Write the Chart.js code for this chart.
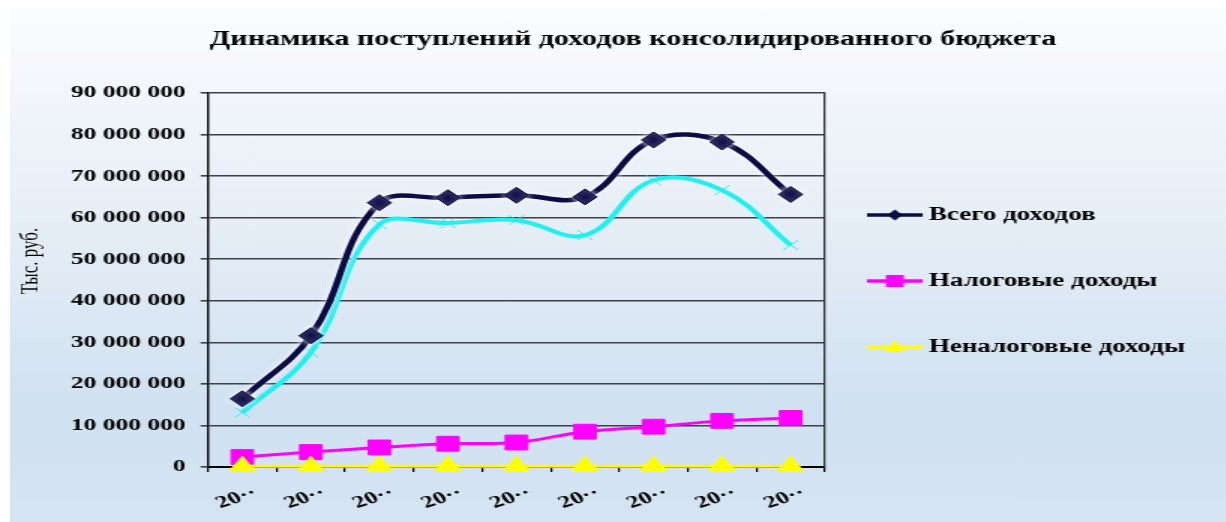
<!DOCTYPE html>
<html>
<head>
<meta charset="utf-8">
<script src="https://cdn.jsdelivr.net/npm/chart.js@4.4.1/dist/chart.umd.min.js"></script>
<style>
  html, body { margin: 0; padding: 0; width: 1226px; height: 522px; overflow: hidden; background: #ffffff; }
  #bg { position: absolute; left: 10px; top: 8px; right: 0; bottom: 0;
        background: linear-gradient(to bottom, #fbfcfe 0%, #eef3f9 25%, #e1ebf5 50%, #d0e1f1 78%, #d4e4f2 100%); }
  #wrap { position: absolute; left: 0; top: 0; width: 818px; height: 522px;
          transform: scaleX(1.5); transform-origin: 0 0; }
</style>
</head>
<body>
<div id="bg"></div>
<div id="wrap"><canvas id="c" width="818" height="522"></canvas></div>
<script>
// ---- data ----
const chartTitle = 'Динамика поступлений доходов консолидированного бюджета';
const yAxisTitle = 'Тыс. руб.';
const categories = ['20··', '20··', '20··', '20··', '20··', '20··', '20··', '20··', '20··'];
const seriesNames = ['Всего доходов', 'Налоговые доходы', 'Неналоговые доходы', ''];
const totalIncome  = [16400000, 31600000, 63600000, 64800000, 65400000, 65000000, 78700000, 78200000, 65600000];
const taxIncome    = [2400000, 3600000, 4700000, 5600000, 5900000, 8500000, 9700000, 11100000, 11800000];
const nonTaxIncome = [200000, 200000, 200000, 200000, 200000, 200000, 200000, 200000, 200000];
const otherIncome  = [13100000, 27600000, 58400000, 58700000, 59400000, 55800000, 69000000, 66600000, 53400000];
const yTicksMin = 0;
const yTicksMax = 90000000;
const yTicksStep = 10000000;

// ---- styles ----
const SERIF = "'Liberation Serif', 'Times New Roman', serif";
const NAVY = '#0b0b45';
const MAGENTA = '#ff00ff';
const YELLOW = '#ffff00';
const CYAN = '#22f0f0';

function fmt(v) { return String(v).replace(/\B(?=(\d{3})+(?!\d))/g, ' '); }

// legend symbols: line with marker in the middle (Excel style)
function legendSymbol(color, marker) {
  const cv = document.createElement('canvas');
  cv.width = 52; cv.height = 18;
  const g = cv.getContext('2d');
  g.strokeStyle = color; g.lineWidth = 3.5;
  g.beginPath(); g.moveTo(0, 9); g.lineTo(37, 9); g.stroke();
  g.fillStyle = color;
  const cx = 18.5, cy = 9;
  g.beginPath();
  if (marker === 'diamond') {
    g.moveTo(cx, cy - 5.5); g.lineTo(cx + 5, cy); g.lineTo(cx, cy + 5.5); g.lineTo(cx - 5, cy); g.closePath();
  } else if (marker === 'square') {
    g.rect(cx - 6, cy - 6, 12, 12);
  } else {
    g.moveTo(cx, cy - 7); g.lineTo(cx + 6.5, cy + 5); g.lineTo(cx - 6.5, cy + 5); g.closePath();
  }
  g.fill();
  return cv;
}
const legendSymbols = [legendSymbol(NAVY, 'diamond'), legendSymbol(MAGENTA, 'square'), legendSymbol(YELLOW, 'triangle')];

const glowPlugin = {
  id: 'glow',
  beforeDatasetDraw(chart, args) {
    if (args.index === 0) {
      const c = chart.ctx; c.save();
      c.shadowColor = 'rgba(255,255,255,0.95)'; c.shadowBlur = 5;
    }
  },
  afterDatasetDraw(chart, args) {
    if (args.index === 0) chart.ctx.restore();
  }
};

const plotLeft = 138.7;
const padLeft = 44;

new Chart(document.getElementById('c'), {
  type: 'line',
  data: {
    labels: categories,
    datasets: [
      { label: seriesNames[0], data: totalIncome, order: 0, borderColor: NAVY, backgroundColor: NAVY,
        borderWidth: 4.5, tension: 0.4, pointStyle: 'rectRot', pointRadius: 8, pointBorderWidth: 1,
        pointBackgroundColor: NAVY, pointBorderColor: NAVY, clip: false },
      { label: seriesNames[1], data: taxIncome, order: 2, borderColor: MAGENTA, backgroundColor: MAGENTA,
        borderWidth: 3, tension: 0.4, pointStyle: 'rect', pointRadius: 10.5, pointBorderWidth: 1,
        pointBackgroundColor: MAGENTA, pointBorderColor: MAGENTA, clip: false },
      { label: seriesNames[2], data: nonTaxIncome, order: 1, borderColor: YELLOW, backgroundColor: YELLOW,
        borderWidth: 3, tension: 0.4, pointStyle: 'triangle', pointRadius: 10, pointBorderWidth: 1,
        pointBackgroundColor: YELLOW, pointBorderColor: YELLOW, clip: false },
      { label: seriesNames[3], data: otherIncome, order: 3, borderColor: CYAN, backgroundColor: CYAN,
        borderWidth: 4, tension: 0.4, pointStyle: 'crossRot', pointRadius: 7, pointBorderWidth: 1,
        pointBackgroundColor: CYAN, pointBorderColor: CYAN, clip: false }
    ]
  },
  options: {
    responsive: false,
    animation: false,
    events: [],
    layout: { padding: { left: padLeft, right: 18, top: 0, bottom: 0 } },
    plugins: {
      tooltip: { enabled: false },
      title: {
        display: true, text: chartTitle, color: '#000',
        font: { family: SERIF, size: 20, weight: 'bold' },
        padding: { top: 28, bottom: 41 }
      },
      subtitle: {
        display: true, position: 'left', text: yAxisTitle, color: '#000',
        font: { family: SERIF, size: 17, weight: 'normal' },
        padding: { top: -33.7, bottom: 13.3 }
      },
      legend: {
        display: true, position: 'right', align: 'center', maxWidth: 320,
        title: { display: true, text: '', font: { size: 12 }, padding: { top: 25.6, bottom: 0 } },
        labels: {
          usePointStyle: true, pointStyleWidth: 12.3, padding: 48, color: '#000',
          font: { family: SERIF, size: 18, weight: 'bold' },
          filter: (item) => item.datasetIndex !== 3,
          sort: (a, b) => a.datasetIndex - b.datasetIndex,
          generateLabels: (chart) => {
            const items = Chart.defaults.plugins.legend.labels.generateLabels(chart);
            items.forEach(it => { if (legendSymbols[it.datasetIndex]) it.pointStyle = legendSymbols[it.datasetIndex]; });
            return items;
          }
        }
      }
    },
    scales: {
      x: {
        offset: true,
        grid: { display: true, drawOnChartArea: false, drawTicks: true, tickLength: 5, color: '#000', lineWidth: 1.2, offset: true },
        border: { display: true, color: '#000', width: 2 },
        ticks: { color: '#000', font: { family: SERIF, size: 17, weight: 'bold' },
                 maxRotation: 25, minRotation: 25, autoSkip: false, labelOffset: 9, padding: 11 },
        afterFit: (s) => { s.height = 55; }
      },
      y: {
        min: yTicksMin, max: yTicksMax,
        grid: { color: '#3c4048', lineWidth: 1.6, tickLength: 5, drawTicks: true },
        border: { display: true, color: '#000', width: 1.4 },
        ticks: { stepSize: yTicksStep, color: '#000', padding: 10,
                 font: { family: SERIF, size: 17, weight: 'bold' },
                 callback: (v) => fmt(v) },
        afterFit: (s) => { s.width = plotLeft - padLeft; }
      },
      y2: {
        position: 'right', min: yTicksMin, max: yTicksMax,
        grid: { drawOnChartArea: false, drawTicks: false },
        border: { display: true, color: '#333', width: 1.3 },
        ticks: { display: false },
        afterFit: (s) => { s.width = 0; }
      }
    }
  },
  plugins: [glowPlugin]
});
</script>
</body>
</html>
